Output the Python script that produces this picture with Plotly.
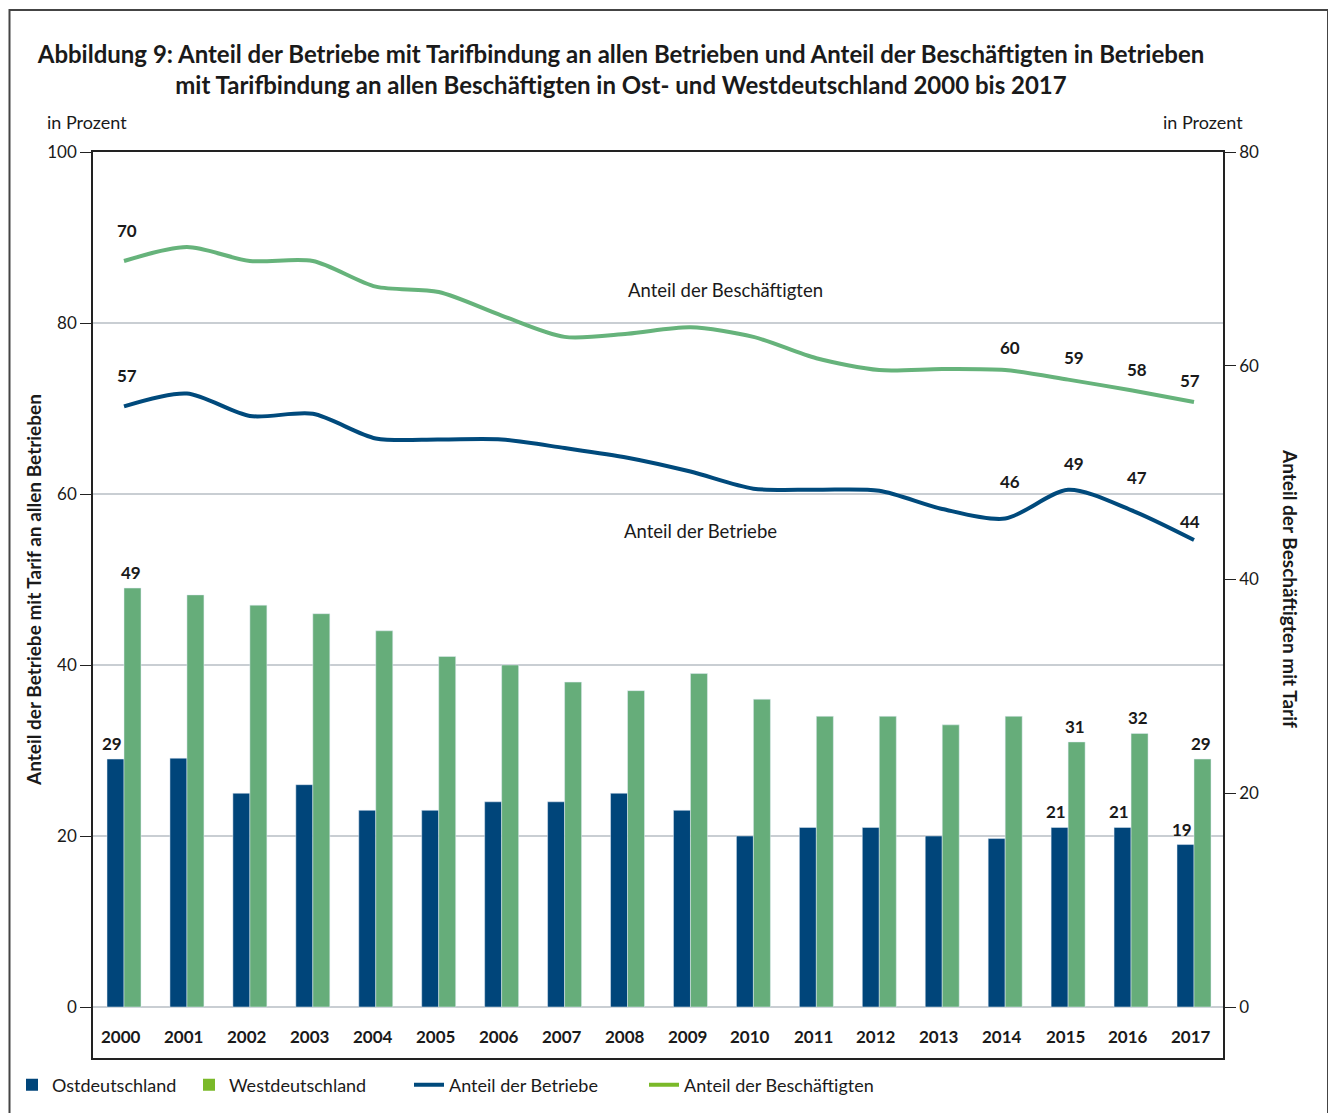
import plotly.graph_objects as go

# ---------------- data ----------------
years = [str(y) for y in range(2000, 2018)]

ost_betriebe = [29, 29.1, 25, 26, 23, 23, 24, 24, 25, 23, 20, 21, 21, 20, 19.7, 21, 21, 19]
west_betriebe = [49, 48.2, 47, 46, 44, 41, 40, 38, 37, 39, 36, 34, 34, 33, 34, 31, 32, 29]
ost_labels = {"2000": "29", "2015": "21", "2016": "21", "2017": "19"}
west_labels = {"2000": "49", "2015": "31", "2016": "32", "2017": "29"}

anteil_betriebe = [56.2, 57.4, 55.3, 55.5, 53.2, 53.1, 53.1, 52.3, 51.4, 50.1, 48.5, 48.4,
                   48.3, 46.6, 45.7, 48.4, 46.5, 43.7]
anteil_beschaeftigte = [69.8, 71.1, 69.8, 69.8, 67.4, 66.9, 64.7, 62.7, 63.0, 63.6, 62.7, 60.7,
                        59.6, 59.7, 59.6, 58.7, 57.7, 56.6]
betriebe_labels = {"2000": "57", "2014": "46", "2015": "49", "2016": "47", "2017": "44"}
beschaeftigte_labels = {"2000": "70", "2014": "60", "2015": "59", "2016": "58", "2017": "57"}

left_ticks = [0, 20, 40, 60, 80, 100]
right_ticks = [0, 20, 40, 60, 80]

# ---------------- style ----------------
FONT = "Lato"
TXT = "#1a1a1a"
C_OST = "#00457A"
C_WEST = "#66AD7A"
C_LINE_B = "#004A7C"
C_LINE_W = "#66B37B"
C_LEG_GREEN = "#7AB929"

OFF = 8                      # page body margin
WS, HS = 1336, 1113          # screen size
W, H = WS - OFF, HS - OFF    # figure size
# plot area in screen pixels
L, R, T, B = 93, 1223, 152, 1058
Y0 = 1007                    # screen y of value 0


def px_x(px):
    return (px - L) / (R - L)


def px_y(py):
    return (B - py) / (B - T)


fig = go.Figure()

fig.add_trace(go.Bar(x=years, y=ost_betriebe, name="Ostdeutschland", marker_color=C_OST,
                     showlegend=False, hoverinfo="skip"))
fig.add_trace(go.Bar(x=years, y=west_betriebe, name="Westdeutschland", marker_color=C_WEST,
                     showlegend=False, hoverinfo="skip"))

fig.add_trace(go.Scatter(
    x=years, y=anteil_betriebe, yaxis="y2", mode="lines", name="Anteil der Betriebe",
    line=dict(color=C_LINE_B, width=4, shape="spline", smoothing=0.8), showlegend=False))
fig.add_trace(go.Scatter(
    x=years, y=anteil_beschaeftigte, yaxis="y2", mode="lines", name="Anteil der Beschäftigten",
    line=dict(color=C_LINE_W, width=4, shape="spline", smoothing=0.8), showlegend=False))

# legend-only entries (legend colours differ slightly in the original), one legend each
fig.add_trace(go.Scatter(x=[None], y=[None], mode="markers", name="Ostdeutschland",
                         marker=dict(symbol="square", size=12, color=C_OST), legend="legend"))
fig.add_trace(go.Scatter(x=[None], y=[None], mode="markers", name="Westdeutschland",
                         marker=dict(symbol="square", size=12, color=C_LEG_GREEN), legend="legend2"))
fig.add_trace(go.Scatter(x=[None], y=[None], mode="lines", name="Anteil der Betriebe",
                         line=dict(color=C_LINE_B, width=4), legend="legend3"))
fig.add_trace(go.Scatter(x=[None], y=[None], mode="lines", name="Anteil der Beschäftigten",
                         line=dict(color=C_LEG_GREEN, width=4), legend="legend4"))

annotations = []
bold_lab = dict(family=FONT, size=17, color=TXT, weight="bold")

# bar value labels
for yr, lab in ost_labels.items():
    i = years.index(yr)
    annotations.append(dict(x=i, y=ost_betriebe[i], xref="x", yref="y", text=lab,
                            showarrow=False, xanchor="center", yanchor="bottom",
                            xshift=-12, yshift=3, font=bold_lab))
for yr, lab in west_labels.items():
    i = years.index(yr)
    annotations.append(dict(x=i, y=west_betriebe[i], xref="x", yref="y", text=lab,
                            showarrow=False, xanchor="center", yanchor="bottom",
                            xshift=7, yshift=3, font=bold_lab))

# line value labels
b_shift = {"2000": (3, 31), "2014": (5, 37), "2015": (6, 26), "2016": (6, 33), "2017": (-4, 18)}
w_shift = {"2000": (3, 31), "2014": (5, 23), "2015": (6, 22), "2016": (6, 21), "2017": (-4, 22)}
for yr, lab in betriebe_labels.items():
    i = years.index(yr)
    dx, dy = b_shift[yr]
    annotations.append(dict(x=i, y=anteil_betriebe[i], xref="x", yref="y2", text=lab,
                            showarrow=False, xanchor="center", yanchor="middle",
                            xshift=dx, yshift=dy, font=bold_lab))
for yr, lab in beschaeftigte_labels.items():
    i = years.index(yr)
    dx, dy = w_shift[yr]
    annotations.append(dict(x=i, y=anteil_beschaeftigte[i], xref="x", yref="y2", text=lab,
                            showarrow=False, xanchor="center", yanchor="middle",
                            xshift=dx, yshift=dy, font=bold_lab))

# x category labels inside the frame
for i, yr in enumerate(years):
    annotations.append(dict(x=i, y=px_y(1036), xref="x", yref="paper", text=yr,
                            showarrow=False, xanchor="center", yanchor="middle", xshift=-3,
                            font=dict(family=FONT, size=17, color=TXT, weight="bold")))

# series labels in the plot
annotations.append(dict(x=px_x(725), y=px_y(290), xref="paper", yref="paper",
                        xanchor="center", yanchor="middle",
                        text="Anteil der Beschäftigten", showarrow=False,
                        font=dict(family=FONT, size=18.5, color=TXT)))
annotations.append(dict(x=px_x(700), y=px_y(531), xref="paper", yref="paper",
                        xanchor="center", yanchor="middle",
                        text="Anteil der Betriebe", showarrow=False,
                        font=dict(family=FONT, size=18.5, color=TXT)))

# axis titles
annotations.append(dict(x=px_x(33), y=px_y(590), xref="paper", yref="paper",
                        xanchor="center", yanchor="middle",
                        text="Anteil der Betriebe mit Tarif an allen Betrieben", textangle=-90,
                        showarrow=False, font=dict(family=FONT, size=19, color=TXT, weight="bold")))
annotations.append(dict(x=px_x(1291), y=px_y(588), xref="paper", yref="paper",
                        xanchor="center", yanchor="middle",
                        text="Anteil der Beschäftigten mit Tarif", textangle=90,
                        showarrow=False, font=dict(family=FONT, size=19, color=TXT, weight="bold")))

# unit labels
annotations.append(dict(x=px_x(45), y=px_y(122), xref="paper", yref="paper",
                        xanchor="left", yanchor="middle",
                        text="in Prozent", showarrow=False,
                        font=dict(family=FONT, size=18, color=TXT)))
annotations.append(dict(x=px_x(1245), y=px_y(122), xref="paper", yref="paper",
                        xanchor="right", yanchor="middle",
                        text="in Prozent", showarrow=False,
                        font=dict(family=FONT, size=18, color=TXT)))

# ranges so that 0 sits at Y0
left_range = [-(B - Y0) / ((Y0 - T) / 100), 100]
right_range = [-(B - Y0) / ((Y0 - T) / 80), 80]
spacing = (1194 - 124) / 17
x_range = [-(124 - L) / spacing, 17 + (R - 1194) / spacing]

legfont = dict(family=FONT, size=18, color=TXT)


def leg(text_start_px):
    return dict(orientation="h", x=px_x(text_start_px - 40), y=px_y(1085),
                xanchor="left", yanchor="middle", font=legfont,
                bgcolor="rgba(0,0,0,0)")


fig.update_layout(
    width=W, height=H,
    margin=dict(l=L - OFF, r=W - (R - OFF), t=T - OFF, b=H - (B - OFF), autoexpand=False),
    paper_bgcolor="white", plot_bgcolor="white",
    font=dict(family=FONT, color=TXT),
    title=dict(
        text="Abbildung 9: Anteil der Betriebe mit Tarifbindung an allen Betrieben und Anteil der Beschäftigten in Betrieben<br>mit Tarifbindung an allen Beschäftigten in Ost- und Westdeutschland 2000 bis 2017",
        x=(621 - OFF) / W, y=1 - (63 - OFF) / H, xanchor="center", yanchor="middle",
        xref="container", yref="container",
        font=dict(family=FONT, size=24, color=TXT, weight="bold")),
    barmode="group", bargap=0.46, bargroupgap=0,
    xaxis=dict(type="category", range=x_range, showticklabels=False, ticks="",
               showline=True, mirror=True, linecolor="#222", linewidth=1.5, showgrid=False,
               automargin=False),
    yaxis=dict(range=left_range, tickvals=left_ticks, ticks="outside", ticklen=11,
               tickcolor="#222", tickfont=dict(family=FONT, size=17, color=TXT),
               showline=True, linecolor="#222", linewidth=1.5, automargin=False,
               showgrid=True, gridcolor="#C9CED3", gridwidth=1.5, zeroline=False),
    yaxis2=dict(range=right_range, tickvals=right_ticks, ticks="outside", ticklen=11,
                tickcolor="#222", tickfont=dict(family=FONT, size=17, color=TXT),
                overlaying="y", side="right", showline=True, linecolor="#222", linewidth=1.5,
                showgrid=False, zeroline=False, automargin=False),
    legend=leg(52),
    legend2=leg(229),
    legend3=leg(449),
    legend4=leg(684),
    annotations=annotations,
    shapes=[dict(type="rect", xref="paper", yref="paper",
                 x0=px_x(9.5), x1=px_x(1328), y0=px_y(1150), y1=px_y(10),
                 line=dict(color="#444", width=2), layer="below")],
)

fig.write_html("out.html")
